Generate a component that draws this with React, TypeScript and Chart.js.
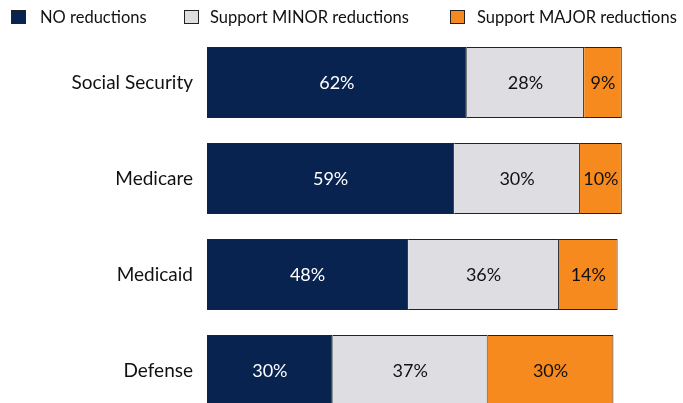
import React, { useEffect, useRef } from "react";
import { Chart, registerables } from "chart.js";

Chart.register(...registerables);

const categories = ["Social Security", "Medicare", "Medicaid", "Defense"];
const seriesNames = ["NO reductions", "Support MINOR reductions", "Support MAJOR reductions"];
const noReductions = [62, 59, 48, 30];
const minorReductions = [28, 30, 36, 37];
const majorReductions = [9, 10, 14, 30];
const colors = ["#08234F", "#DEDDE2", "#F68A1E"];
const labelColors = ["#FFFFFF", "#111111", "#111111"];

const FONT = "Lato, 'Open Sans', sans-serif";
const legendBoxX = [11, 184, 450];
const legendTextX = [40, 210, 477];

const legendPlugin = {
  id: "topLegend",
  afterDraw(chart: any) {
    const ctx = chart.ctx;
    ctx.save();
    ctx.font = `16.5px ${FONT}`;
    ctx.textBaseline = "middle";
    ctx.textAlign = "left";
    seriesNames.forEach((name, i) => {
      const x = legendBoxX[i];
      const y = 10;
      ctx.fillStyle = colors[i];
      ctx.fillRect(x, y, 15, 14);
      ctx.strokeStyle = "#222";
      ctx.lineWidth = 1;
      ctx.strokeRect(x + 0.5, y + 0.5, 14, 13);
      ctx.fillStyle = "#111";
      ctx.fillText(name, legendTextX[i], y + 8);
    });
    ctx.restore();
  },
};

const valueLabelPlugin = {
  id: "valueLabels",
  afterDatasetsDraw(chart: any) {
    const ctx = chart.ctx;
    ctx.save();
    ctx.font = `18px ${FONT}`;
    ctx.textAlign = "center";
    ctx.textBaseline = "middle";
    chart.data.datasets.forEach((ds: any, di: number) => {
      const meta = chart.getDatasetMeta(di);
      meta.data.forEach((bar: any, i: number) => {
        const c = bar.getCenterPoint();
        ctx.fillStyle = labelColors[di];
        ctx.fillText(`${ds.data[i]}%`, c.x, c.y + 1);
      });
    });
    ctx.restore();
  },
};

export default function App() {
  const ref = useRef<HTMLCanvasElement>(null);
  useEffect(() => {
    if (!ref.current) return;
    const series = [noReductions, minorReductions, majorReductions];
    const chart = new Chart(ref.current, {
      type: "bar",
      data: {
        labels: categories,
        datasets: series.map((d, i) => ({
          label: seriesNames[i],
          data: d,
          backgroundColor: colors[i],
          borderColor: "#222222",
          borderWidth: 1,
          barPercentage: 0.74,
          categoryPercentage: 1,
        })),
      },
      options: {
        indexAxis: "y",
        animation: false,
        responsive: false,
        devicePixelRatio: 1,
        layout: { padding: { top: 34.5, bottom: 0, left: 0, right: 57 } },
        plugins: { legend: { display: false }, tooltip: { enabled: false } },
        scales: {
          x: { stacked: true, min: 0, max: 100, display: false },
          y: {
            stacked: true,
            grid: { display: false, drawTicks: false },
            border: { display: false },
            ticks: { font: { family: FONT, size: 19 }, color: "#111", padding: 14 },
            afterFit(scale: any) {
              scale.width = 207;
            },
          },
        },
      },
      plugins: [legendPlugin, valueLabelPlugin],
    });
    return () => chart.destroy();
  }, []);
  return (
    <div style={{ position: "fixed", left: 0, top: 0, width: 683, height: 444, background: "#fff" }}>
      <canvas ref={ref} width={683} height={444} style={{ display: "block" }} />
    </div>
  );
}
